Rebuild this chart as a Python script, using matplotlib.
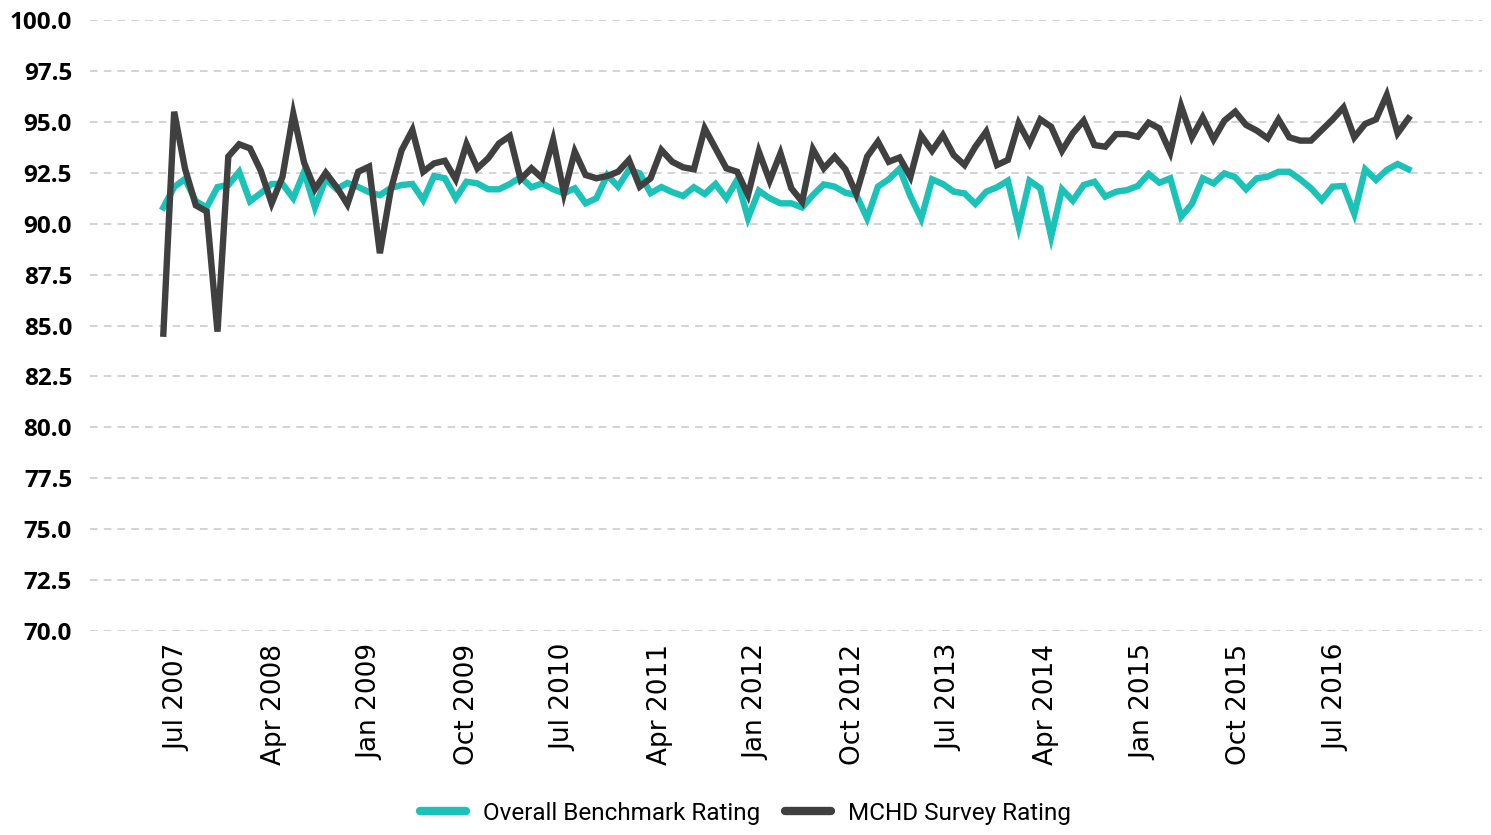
import numpy as np
import matplotlib.pyplot as plt

# monthly ratings, Jun 2007 .. Jan 2017
benchmark = [90.8, 91.8, 92.2, 91.1, 90.8, 91.8, 91.9, 92.55, 91.1, 91.5,
             91.95, 91.95, 91.25, 92.55, 90.8, 92.2, 91.7, 92.0, 91.8, 91.55,
             91.4, 91.75, 91.9, 91.95, 91.16, 92.34, 92.23, 91.25, 92.06, 91.98,
             91.69, 91.69, 91.95, 92.28, 91.79, 91.98, 91.69, 91.49, 91.74, 91.0,
             91.25, 92.39, 91.82, 92.64, 92.47, 91.5, 91.8, 91.55, 91.36, 91.79,
             91.46, 91.95, 91.25, 92.15, 90.27, 91.62, 91.25, 91.0, 91.0, 90.8,
             91.41, 91.93, 91.82, 91.52, 91.41, 90.27, 91.82, 92.18, 92.7, 91.35,
             90.25, 92.18, 91.95, 91.57, 91.49, 90.97, 91.57, 91.79, 92.11, 89.85,
             92.11, 91.74, 89.36, 91.69, 91.13, 91.9, 92.06, 91.33, 91.57, 91.65,
             91.85, 92.44, 92.01, 92.23, 90.34, 90.97, 92.23, 91.98, 92.47, 92.28,
             91.69, 92.23, 92.31, 92.55, 92.55, 92.18, 91.74, 91.16, 91.82, 91.85,
             90.48, 92.67, 92.15, 92.64, 92.93, 92.67]

survey = [84.6, 95.5, 92.7, 90.9, 90.6, 84.7, 93.3, 93.9, 93.7, 92.6,
          91.0, 92.3, 95.4, 93.0, 91.7, 92.5, 91.8, 90.95, 92.55, 92.8,
          88.55, 91.65, 93.6, 94.6, 92.55, 92.96, 93.09, 92.18, 93.91, 92.72,
          93.21, 93.94, 94.3, 92.18, 92.72, 92.23, 94.11, 91.49, 93.54, 92.39,
          92.23, 92.34, 92.55, 93.13, 91.82, 92.23, 93.62, 93.04, 92.77, 92.67,
          94.68, 93.7, 92.72, 92.55, 91.41, 93.54, 92.11, 93.46, 91.74, 91.08,
          93.65, 92.72, 93.29, 92.67, 91.46, 93.29, 94.03, 93.04, 93.25, 92.3,
          94.32, 93.58, 94.35, 93.37, 92.88, 93.78, 94.52, 92.88, 93.13, 94.93,
          93.95, 95.12, 94.76, 93.58, 94.44, 95.06, 93.86, 93.78, 94.4, 94.4,
          94.27, 94.96, 94.68, 93.5, 95.78, 94.24, 95.22, 94.14, 95.06, 95.5,
          94.85, 94.57, 94.19, 95.12, 94.24, 94.08, 94.08, 94.6, 95.12, 95.71,
          94.24, 94.9, 95.12, 96.32, 94.44, 95.17]

tick_labels = ['Jul 2007', 'Apr 2008', 'Jan 2009', 'Oct 2009', 'Jul 2010',
               'Apr 2011', 'Jan 2012', 'Oct 2012', 'Jul 2013', 'Apr 2014',
               'Jan 2015', 'Oct 2015', 'Jul 2016']
y_ticks = np.arange(70, 100.1, 2.5)

teal = '#1bc2b7'
dark = '#404040'

fig = plt.figure(figsize=(14.91, 8.35), dpi=100)
ax = fig.add_axes([0.0604, 0.2443, 0.9336, 0.7317])

x = np.arange(len(survey))
ax.plot(x, benchmark, color=teal, lw=4.6, solid_joinstyle='miter',
        label='Overall Benchmark Rating')
ax.plot(x, survey, color=dark, lw=4.6, solid_joinstyle='miter',
        label='MCHD Survey Rating')

ax.set_xlim(-6.77, 121.8)
ax.set_ylim(70, 100)
ax.set_yticks(y_ticks)
ax.set_yticklabels([f'{v:.1f}' for v in y_ticks], fontfamily='Open Sans',
                   fontweight='bold', fontsize=17.5)
ax.set_xticks(np.linspace(1.3, 108.3, len(tick_labels)))
ax.set_xticklabels(tick_labels, rotation=90, fontfamily='DejaVu Sans',
                   fontsize=19)
ax.tick_params(axis='both', length=0)
ax.tick_params(axis='y', pad=13)
ax.tick_params(axis='x', pad=9)

ax.grid(axis='y', color='#c8c8c8', linestyle=(0, (5, 4)), lw=1.1)
ax.set_axisbelow(True)
for s in ax.spines.values():
    s.set_visible(False)

leg = fig.legend(loc='center', bbox_to_anchor=(0.5, 0.026), ncol=2, frameon=False,
                 prop={'family': 'Roboto', 'size': 17.5}, handlelength=1.9,
                 columnspacing=1.0, handletextpad=0.7)
for h in leg.get_lines():
    h.set_linewidth(6)
    h.set_solid_capstyle('round')

fig.savefig('out.png', dpi=100)
